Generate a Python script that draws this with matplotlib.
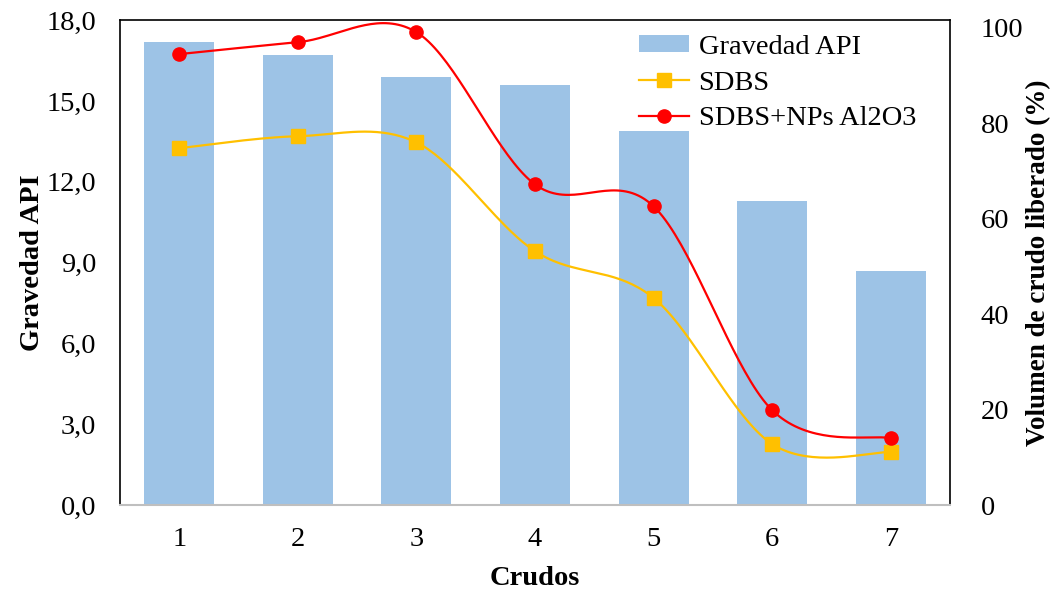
import numpy as np
import matplotlib.pyplot as plt
from matplotlib.ticker import FuncFormatter

# datos
crudos = [1, 2, 3, 4, 5, 6, 7]
gravedad_api = [17.2, 16.7, 15.9, 15.6, 13.9, 11.3, 8.7]
sdbs = [74.8, 77.3, 76.0, 53.2, 43.4, 12.8, 11.1]
sdbs_nps = [94.5, 97.0, 99.1, 67.2, 62.6, 19.9, 14.0]


def suavizar(x, y, n=40):
    # curva suavizada tipo Excel (Bezier con tangentes Catmull-Rom)
    x = np.asarray(x, float)
    y = np.asarray(y, float)
    px = np.concatenate([[x[0]], x, [x[-1]]])
    py = np.concatenate([[y[0]], y, [y[-1]]])
    t = np.linspace(0, 1, n)
    xs, ys = [], []
    for i in range(1, len(px) - 2):
        p0 = np.array([px[i], py[i]])
        p3 = np.array([px[i + 1], py[i + 1]])
        p1 = p0 + (np.array([px[i + 1], py[i + 1]]) - np.array([px[i - 1], py[i - 1]])) / 6
        p2 = p3 - (np.array([px[i + 2], py[i + 2]]) - np.array([px[i], py[i]])) / 6
        b = ((1 - t) ** 3)[:, None] * p0 + (3 * (1 - t) ** 2 * t)[:, None] * p1 \
            + (3 * (1 - t) * t ** 2)[:, None] * p2 + (t ** 3)[:, None] * p3
        xs.append(b[:, 0])
        ys.append(b[:, 1])
    return np.concatenate(xs), np.concatenate(ys)


plt.rcParams['font.family'] = ['Liberation Serif', 'DejaVu Serif']
fs = 20.5

fig, ax = plt.subplots(figsize=(10.58, 5.95), dpi=100)
fig.subplots_adjust(left=0.1134, right=0.898, top=0.966, bottom=0.151)

barras = ax.bar(crudos, gravedad_api, width=0.59, color='#9DC3E6', label='Gravedad API', zorder=1)
ax.set_xlim(0.5, 7.5)
ax.set_ylim(0, 18)
ax.set_yticks(np.arange(0, 18.1, 3))
ax.yaxis.set_major_formatter(FuncFormatter(lambda v, p: f'{v:.1f}'.replace('.', ',')))
ax.set_xticks(crudos)
ax.tick_params(axis='both', length=0, labelsize=fs)
ax.tick_params(axis='x', pad=16)
ax.tick_params(axis='y', pad=17)
ax.set_xlabel('Crudos', fontsize=fs, fontweight='bold', labelpad=10)
ax.set_ylabel('Gravedad API', fontsize=fs, fontweight='bold', labelpad=1)
for s in ['left', 'right', 'top']:
    ax.spines[s].set_color('black')
    ax.spines[s].set_linewidth(1.2)
ax.spines['bottom'].set_color('#BFBFBF')
ax.spines['bottom'].set_linewidth(1.5)

ax2 = ax.twinx()
ax2.set_ylim(0, 101.6)
ax2.set_yticks(np.arange(0, 101, 20))
ax2.tick_params(axis='y', length=0, labelsize=fs, pad=22)
ax2.set_ylabel('Volumen de crudo liberado (%)', fontsize=19.5, fontweight='bold', labelpad=2)
for s in ax2.spines.values():
    s.set_visible(False)

xs, ys = suavizar(crudos, sdbs)
ax2.plot(xs, ys, color='#FFC000', lw=1.6, zorder=3)
ax2.plot(crudos, sdbs, ls='none', marker='s', ms=9.5, color='#FFC000', zorder=4)
xs, ys = suavizar(crudos, sdbs_nps)
ax2.plot(xs, ys, color='#FF0000', lw=1.6, zorder=3)
ax2.plot(crudos, sdbs_nps, ls='none', marker='o', ms=9.5, color='#FF0000', zorder=4)

h1 = plt.Line2D([], [], color='#FFC000', lw=1.6, marker='s', ms=9.5)
h2 = plt.Line2D([], [], color='#FF0000', lw=1.6, marker='o', ms=9.5)
ax2.legend([barras, h1, h2], ['Gravedad API', 'SDBS', 'SDBS+NPs Al2O3'],
           loc='upper left', bbox_to_anchor=(0.625, 0.97), frameon=False, fontsize=fs,
           handlelength=1.75, handleheight=0.55, handletextpad=0.35, labelspacing=0.38,
           borderaxespad=0.0, borderpad=0.0)

fig.savefig('out.png', dpi=100)
